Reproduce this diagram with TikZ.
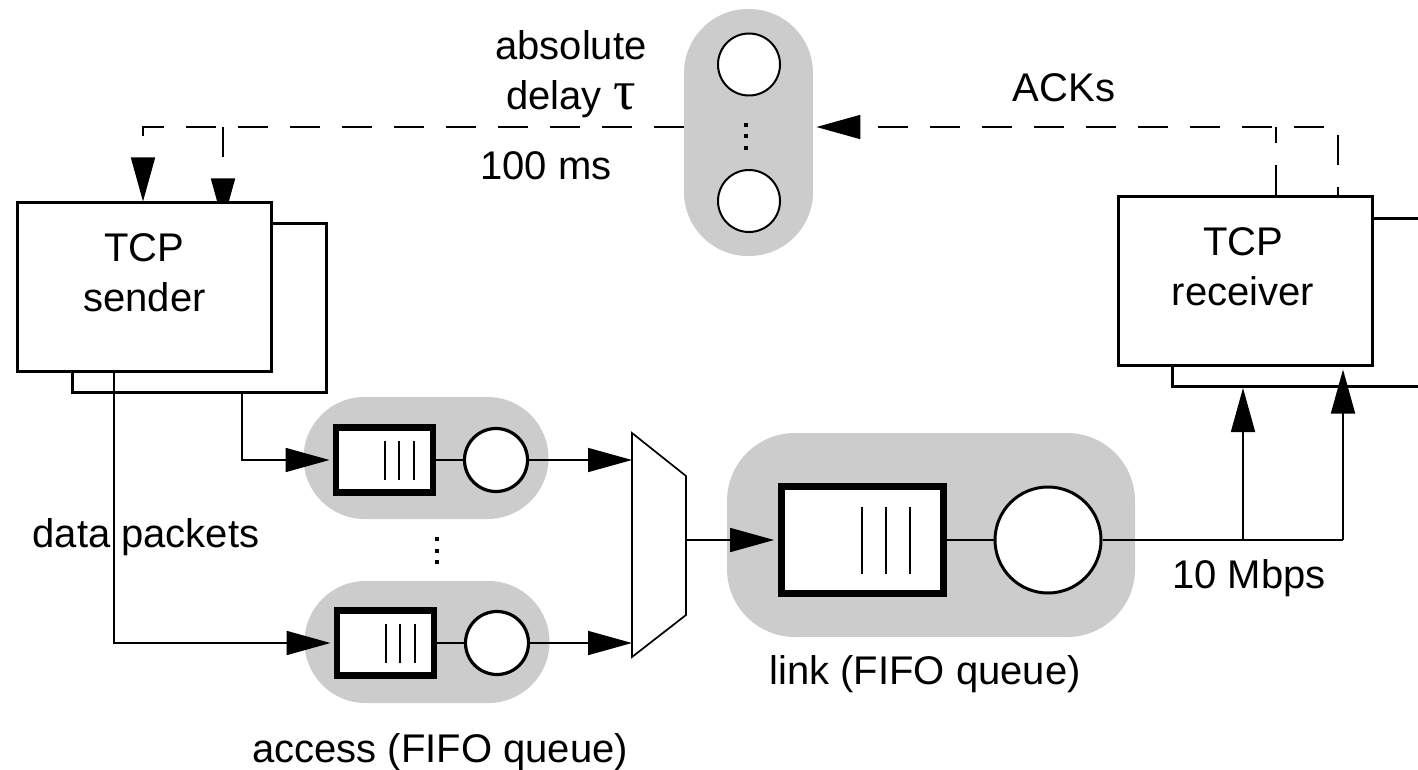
\documentclass[tikz,border=0pt]{standalone}
\usepackage{fontspec}
\setmainfont{Liberation Sans}
\newfontfamily\grk{Liberation Serif}
\usetikzlibrary{arrows.meta,calc}
\definecolor{pillgray}{RGB}{204,204,204}
\pgfdeclarelayer{back}
\pgfdeclarelayer{mid}
\pgfsetlayers{back,mid,main}
\begin{document}
\begin{tikzpicture}[x=0.5pt,y=-0.5pt,
  box/.style={draw,line width=1.5pt,fill=white,minimum width=127pt,minimum height=84pt,inner sep=0pt},
  pill/.style={fill=pillgray,rounded corners=#1,inner sep=0pt},
  qbox/.style={draw,line width=3.25pt,fill=white,inner sep=0pt,minimum width=48.5pt,minimum height=32.5pt},
  srv/.style={circle,draw,fill=white,inner sep=0pt},
  conn/.style={line width=0.85pt},
  ack/.style={line width=0.85pt,dash pattern=on 15pt off 11pt},
  tip/.style={-{Triangle[length=22pt,width=12pt]}},
  bar/.style={line width=1pt},
  lbl/.style={font=\fontsize{20}{25}\selectfont,inner sep=0pt,align=center},
]
\useasboundingbox (0,0) rectangle (1418,770);
\clip (0,0) rectangle (1418,770);

% helper coordinates
\coordinate (yAck) at (0,127);
\coordinate (xS1) at (143,0);
\coordinate (xS2) at (223,0);
\coordinate (xR1) at (1276,0);
\coordinate (xR2) at (1338,0);
\coordinate (xD1) at (114,0);
\coordinate (xD2) at (242,0);

% back boxes
\begin{pgfonlayer}{back}
\node[box] (sendB) at (199,308) {};
\node[box] (recvB) at (1299,302.5) {};
\end{pgfonlayer}

% delay element
\node[pill=32pt,minimum width=64.5pt,minimum height=123.5pt] (delay) at (748.5,132.5) {};
\node[srv,line width=1pt,minimum size=31pt] (d1) at (749,64.5) {};
\node[srv,line width=1pt,minimum size=31pt] (d2) at (749,201) {};
\foreach \yy in {123,134.5,146}
  \fill (744,\yy) rectangle ++(4,4);

% front boxes
\node[box] (sendF) at (144.5,287) {};
\node[box] (recvF) at (1245,281) {};
\node[lbl] (tsend) at (144.5,273) {TCP\\sender};
\node[lbl] (trecv) at (1243,267) {TCP\\receiver};

% ACK paths (dashed)
\begin{pgfonlayer}{mid}
\draw[ack,tip] (delay.west |- yAck) -| (sendF.north -| xS1);
\draw[ack,tip] (xS2 |- yAck) -- (sendB.north -| xS2);
\draw[ack,tip] (recvB.north -| xR2) |- ([xshift=1.5pt]delay.east |- yAck);
\draw[ack] (recvF.north -| xR1) -- (xR1 |- yAck);
\end{pgfonlayer}

% access queues
\node[pill=30.5pt,minimum width=122.5pt,minimum height=61pt] (p1) at (426,458) {};
\node[pill=30.5pt,minimum width=122.5pt,minimum height=61pt] (p2) at (427,642) {};
\node[qbox] (q1) at (384.5,460) {};
\node[qbox] (q2) at (385.5,643) {};
\node[srv,line width=1.6pt,minimum size=31.5pt] (c1) at (496,460) {};
\node[srv,line width=1.6pt,minimum size=31.5pt] (c2) at (497,643) {};
\foreach \q in {q1,q2}{
  \foreach \dx in {0,14.5,29}
    \draw[bar] ($(\q.center)+(\dx,-19.5)$) -- ++(0,39);
}
\draw[line width=1.3pt] (q1) -- (c1);
\draw[line width=1.3pt] (q2) -- (c2);
\foreach \yy in {537,548.5,560}
  \fill (435,\yy) rectangle ++(4,4);

% multiplexer
\coordinate (m1) at (632,433);
\coordinate (m2) at (686,476);
\coordinate (m3) at (686,615);
\coordinate (m4) at (632,657);
\coordinate (mo) at (686,540);
\draw[line width=0.85pt,fill=white] (m1) -- (m2) -- (m3) -- (m4) -- cycle;
\draw[conn,tip] (c1) -- (c1 -| m1);
\draw[conn,tip] (c2) -- (c2 -| m1);

% link queue
\node[pill=34pt,minimum width=204pt,minimum height=102pt] (linkp) at (931,535) {};
\node[qbox,line width=3.5pt,minimum width=81pt,minimum height=53.5pt] (lq) at (862,540) {};
\node[srv,line width=1.5pt,minimum size=53pt] (lc) at (1048,540) {};
\foreach \dx in {0,24,48}
  \draw[bar] ($(lq.center)+(\dx,-33.5)$) -- ++(0,67);
\draw[line width=1.3pt] (lq) -- (lc);
\draw[conn,tip] (mo) -- ([xshift=-1.7pt]lq.west);

% data paths
\draw[conn,tip] (sendF.south -| xD1) |- ([xshift=-1.6pt]q2.west);
\draw[conn,tip] (sendB.south -| xD2) |- ([xshift=-1.6pt]q1.west);

% link output to receiver
\coordinate (j1) at (1243,540);
\coordinate (j2) at (1343,540);
\draw[conn] (lc) -- (j2);
\draw[conn,tip] (j1) -- (recvB.south -| j1);
\draw[conn,tip] (j2) -- ([yshift=-1.5pt]recvF.south -| j2);

% labels
\node[lbl] (tdelay) at (571,74) {absolute\\delay {\grk\fontsize{28}{25}\selectfont τ}};
\node[lbl,anchor=base] (t100) at (546,180) {100 ms};
\node[lbl,anchor=base] (tack) at (1064,102) {ACKs};
\node[lbl,anchor=base] (tdata) at (146,547) {data packets};
\node[lbl,anchor=base] (t10) at (1249,588) {10 Mbps};
\node[lbl,anchor=base] (tlink) at (925,684) {link (FIFO queue)};
\node[lbl,anchor=base] (tacc) at (440,762) {access (FIFO queue)};
\end{tikzpicture}
\end{document}
